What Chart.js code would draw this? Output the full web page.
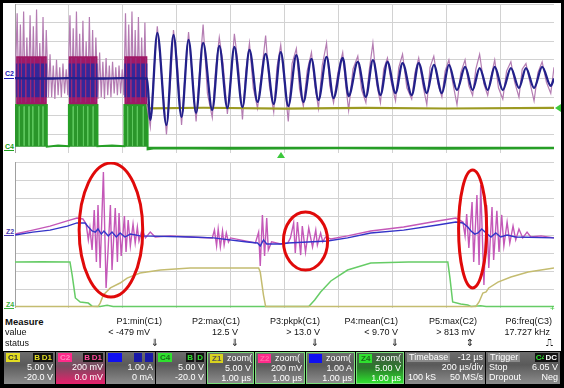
<!DOCTYPE html>
<html>
<head>
<meta charset="utf-8">
<script src="https://cdn.jsdelivr.net/npm/chart.js@4.4.0/dist/chart.umd.min.js"></script>
<style>
html, body { margin: 0; padding: 0; background: #000; }
#frame { position: relative; width: 564px; height: 388px; background: #000; overflow: hidden;
  font-family: "Liberation Sans", Arial, sans-serif; }
#paper { position: absolute; left: 3px; top: 3px; width: 558px; height: 381px; background: #fff; }
canvas { position: absolute; }
.mk { position: absolute; font-size: 7px; line-height: 7px; font-weight: bold; }
.mkl { position: absolute; height: 0; width: 10px; border-top: 1px solid; }
.m { position: absolute; font-size: 9px; line-height: 11px; color: #111; white-space: nowrap; }
#boxes { position: absolute; left: 0; top: 351px; width: 564px; height: 37px; background: #000; }
.bx { position: absolute; top: 1px; height: 32px; box-sizing: border-box; color: #fff; font-size: 9px;
  background: linear-gradient(#6c6c6c, #5a5a5a 40%, #8c8c8c); }
.zm { border: 1px solid #7be07b; }
.tg { position: absolute; left: 2px; top: 1px; height: 9px; line-height: 9px; padding: 0 2px; font-size: 8px; font-weight: bold; }
.bd { position: absolute; top: 1px; height: 9px; line-height: 9px; padding: 0 1px; background: #111; font-size: 8px; font-weight: bold; }
.hd { position: absolute; left: 2px; top: 1px; line-height: 9px; }
.r1 { position: absolute; right: 2px; top: 10px; line-height: 11px; }
.r2 { position: absolute; right: 2px; top: 20px; line-height: 11px; }
.l1 { position: absolute; left: 3px; top: 10px; line-height: 11px; }
.l2 { position: absolute; left: 3px; top: 20px; line-height: 11px; }
.tri { position: absolute; width: 0; height: 0; }
</style>
</head>
<body>
<div id="frame">
  <div id="paper"></div>
  <canvas id="scopeTop" width="539" height="149" style="left:15px;top:4px"></canvas>
  <canvas id="scopeZoom" width="539" height="146" style="left:15px;top:162px"></canvas>

  <!-- channel markers on the left -->
  <div class="mk" style="left:5px;top:70px;color:#2020b8">C2</div>
  <div class="mkl" style="left:4px;top:78px;color:#2020b8"></div>
  <div class="mk" style="left:5px;top:143px;color:#20a020">C4</div>
  <div class="mkl" style="left:4px;top:150px;color:#20a020"></div>
  <div class="mk" style="left:6px;top:228px;color:#4a3ab0">Z2</div>
  <div class="mkl" style="left:4px;top:235px;color:#4a3ab0"></div>
  <div class="mk" style="left:6px;top:301px;color:#40b040">Z4</div>
  <div class="mkl" style="left:4px;top:308px;color:#40b040"></div>

  <!-- trigger markers -->
  <div class="tri" style="left:277px;top:152px;border-left:4px solid transparent;border-right:4px solid transparent;border-bottom:6px solid #3cc83c"></div>
  <div class="tri" style="left:555px;top:104px;border-top:4px solid transparent;border-bottom:4px solid transparent;border-right:6px solid #3cc83c"></div>
  <div class="m" style="left:550px;top:303px;color:#3cc83c;font-size:8px">+</div>

  <!-- measurement table -->
  <div id="meas"></div>

  <!-- channel descriptor boxes -->
  <div id="boxes">
    <div class="bx" style="left:4px;width:51px">
      <span class="tg" style="background:#e2dc22;color:#333">C1</span>
      <span class="bd" style="right:14px;color:#e2dc22">B</span><span class="bd" style="right:2px;color:#e2dc22">D1</span>
      <div class="r1">5.00 V</div><div class="r2">-20.0 V</div>
    </div>
    <div class="bx" style="left:56px;width:49px;background:linear-gradient(#6c6c6c,#7a4a60 45%,#e8206c)">
      <span class="tg" style="background:#ff2a8a;color:#ff8ac0">C2</span>
      <span class="bd" style="right:14px;color:#ff4a9a">B</span><span class="bd" style="right:2px;color:#ff4a9a">D1</span>
      <div class="r1">200 mV</div><div class="r2">0.0 mV</div>
    </div>
    <div class="bx" style="left:106px;width:49px">
      <span class="tg" style="background:#1010f0;color:#1010f0">C3</span>
      <span class="bd" style="right:13px;background:#1a1aa8;color:#1a1aa8">B</span><span class="bd" style="right:2px;background:#1a1aa8;color:#1a1aa8">D</span>
      <div class="r1">1.00 A</div><div class="r2">0 mA</div>
    </div>
    <div class="bx" style="left:156px;width:50px">
      <span class="tg" style="background:#2ee02e;color:#1a6a1a">C4</span>
      <span class="bd" style="right:12px;color:#2ee02e">B</span><span class="bd" style="right:2px;color:#2ee02e">D</span>
      <div class="r1">5.00 V</div><div class="r2">-20.0 V</div>
    </div>
    <div class="bx zm" style="left:207px;width:47px">
      <span class="tg" style="background:#d8d21e;color:#555">Z1</span><span class="hd" style="left:19px">zoom(</span>
      <div class="r1">5.00 V</div><div class="r2">1.00 µs</div>
    </div>
    <div class="bx zm" style="left:255px;width:50px">
      <span class="tg" style="background:#ff2a8a;color:#ff6aa8">Z2</span><span class="hd" style="left:19px">zoom(</span>
      <div class="r1">200 mV</div><div class="r2">1.00 µs</div>
    </div>
    <div class="bx zm" style="left:306px;width:49px">
      <span class="tg" style="background:#1010f0;color:#1010f0">Z3</span><span class="hd" style="left:19px">zoom(</span>
      <div class="r1">1.00 A</div><div class="r2">1.00 µs</div>
    </div>
    <div class="bx zm" style="left:356px;width:48px;background:linear-gradient(#4a5a4a,#2a7a2a 50%,#30e030)">
      <span class="tg" style="background:#2ee02e;color:#1a6a1a">Z4</span><span class="hd" style="left:19px">zoom(</span>
      <div class="r1">5.00 V</div><div class="r2">1.00 µs</div>
    </div>
    <div class="bx" style="left:405px;width:80px">
      <span class="hd" style="padding:0 2px;background:#8a8a8a">Timebase</span>
      <span class="hd" style="left:auto;right:2px">-12 µs</span>
      <div class="r1">200 µs/div</div>
      <div class="l2">100 kS</div><div class="r2">50 MS/s</div>
    </div>
    <div class="bx" style="left:486px;width:74px">
      <span class="hd" style="padding:0 2px;background:#8a8a8a">Trigger</span>
      <span class="bd" style="right:13px;color:#2ee02e">C4</span><span class="bd" style="right:2px;color:#fff">DC</span>
      <div class="l1">Stop</div><div class="r1">6.05 V</div>
      <div class="l2">Dropout</div><div class="r2">Neg</div>
    </div>
  </div>
</div>

<script>
// ---------- top panel (200 us/div), x and y in screen divisions ----------
var burstOn = [0.02, 1.0, 2.03];
var burstOff = [0.59, 1.53, 2.46];
var c2BandTop = 1.2, c2BandBottom = -1.38;   // dense C2 during bursts
var c3BandTop = 0.8, c3BandBottom = -1.0;    // dense C3 during bursts

// C4 gate drive
var c4Top = [[0,-1.42],[0.59,-1.42],[0.59,-3.66],[0.8,-3.6],[1.0,-3.64],[1.0,-1.42],[1.53,-1.42],[1.53,-3.64],
  [1.8,-3.6],[2.03,-3.64],[2.03,-1.42],[2.46,-1.42],[2.46,-3.8],[2.6,-3.74],[4,-3.77],[6,-3.74],[8,-3.77],[10,-3.75]];
var c4Streaks = [0.08,0.17,0.26,0.33,0.44,0.52,1.08,1.16,1.27,1.35,1.45,2.09,2.18,2.27,2.38];
var c2Streaks = [0.06,0.12,0.2,0.29,0.36,0.47,0.55,1.05,1.13,1.22,1.31,1.4,1.49,2.07,2.15,2.24,2.33,2.42];

// C1
var c1Top = [[2.47,-1.6],[3.5,-1.57],[5,-1.62],[6.5,-1.58],[8,-1.61],[10,-1.58]];

// C2 raw (light trace)
var c2Top = [[0,-0.8],[0.04,3.5],[0.07,-1.2],[0.10,2.9],[0.13,-1.1],[0.16,3.6],[0.19,-1.3],[0.22,2.2],[0.25,-1.0],
  [0.28,3.4],[0.31,-1.2],[0.34,2.8],[0.37,-1.1],[0.40,3.7],[0.43,-1.3],[0.46,1.9],[0.49,-1.2],[0.52,3.3],[0.55,-1.1],[0.58,2.6],
  [0.62,-1.0],[0.65,1.3],[0.68,-1.0],[0.71,0.7],[0.74,-1.1],[0.77,1.0],[0.80,-0.9],[0.83,0.6],[0.86,-1.0],[0.89,0.8],
  [0.92,-0.8],[0.95,0.5],[0.98,-0.9],
  [1.02,3.4],[1.05,-1.2],[1.08,2.7],[1.11,-1.3],[1.14,3.6],[1.17,-1.1],[1.20,2.4],[1.23,-1.2],[1.26,3.1],[1.29,-1.3],
  [1.32,2.0],[1.35,-1.1],[1.38,3.3],[1.41,-1.2],[1.44,2.6],[1.47,-1.3],[1.50,2.2],
  [1.54,-1.1],[1.57,1.4],[1.60,-1.0],[1.63,0.9],[1.66,-1.1],[1.69,1.1],[1.72,-0.9],[1.75,0.7],[1.78,-1.0],[1.81,0.9],
  [1.84,-0.8],[1.87,0.6],[1.90,-0.9],[1.93,0.7],[1.96,-0.8],[1.99,0.5],[2.02,-0.9],
  [2.05,3.5],[2.08,-1.2],[2.11,2.9],[2.14,-1.3],[2.17,3.6],[2.20,-1.1],[2.23,2.6],[2.26,-1.2],[2.29,3.3],[2.32,-1.3],
  [2.35,2.2],[2.38,-1.2],[2.41,3.0],[2.44,-1.3],
  [2.51,-2.6],[2.58,0.5],[2.64,2.8],[2.72,0.2],[2.81,-3.0],[2.88,-0.4],[2.94,2.6],[3.01,0.9],[3.09,-2.5],[3.15,0.0],
  [3.22,2.5],[3.30,-0.3],[3.36,-2.3],[3.43,0.6],[3.49,2.9],[3.57,-0.8],[3.66,-2.1],[3.72,0.4],[3.79,2.2],[3.86,0.8],
  [3.94,-1.9],[4.00,-0.2],[4.07,2.4],[4.15,0.5],[4.22,-2.2],[4.28,0.3],[4.35,1.9],[4.42,-0.5],[4.50,-1.6],[4.57,0.2],
  [4.65,2.3],[4.72,-0.4],[4.80,-1.8],[4.86,0.6],[4.93,1.8],[5.00,-0.2],[5.07,-2.3],[5.14,0.8],[5.22,1.6],[5.28,-0.6],
  [5.35,-1.5],[5.42,0.4],[5.50,1.4],[5.56,-0.3],[5.63,-1.6],[5.70,0.7],[5.78,1.9],[5.84,-0.4],[5.91,-1.3],[5.99,0.3],
  [6.08,1.4],[6.13,-0.2],[6.19,-1.7],[6.27,0.5],[6.36,1.2],[6.43,-0.6],[6.51,-1.3],[6.57,0.4],[6.64,1.9],[6.71,-0.3],
  [6.78,-1.3],[6.84,0.5],[6.91,1.1],[6.98,-0.2],[7.06,-1.2],[7.12,0.6],[7.19,1.3],[7.27,-0.5],[7.36,-1.1],[7.42,0.3],
  [7.49,1.1],[7.57,-0.4],[7.64,-1.4],[7.70,0.6],[7.77,1.2],[7.85,-0.3],[7.92,-1.0],[7.98,0.4],[8.05,1.0],[8.12,-0.2],
  [8.20,-1.4],[8.27,0.3],[8.35,1.0],[8.42,-0.4],[8.49,-0.9],[8.55,0.5],[8.62,1.3],[8.70,-0.3],[8.77,-0.9],[8.84,0.2],
  [8.90,1.0],[8.97,-0.5],[9.05,-1.1],[9.12,0.4],[9.20,0.9],[9.27,-0.2],[9.35,-1.0],[9.41,0.5],[9.48,0.8],[9.56,-0.3],
  [9.63,-1.2],[9.70,0.3],[9.78,0.9],[9.86,-0.2],[9.94,-0.8],[10.0,0.6]];

// C3 current (peaks and troughs of the ringing)
var c3Top = [[0,0.02],[0.6,0],[1.0,0.02],[1.55,0],[2.0,0.02],[2.45,0],
  [2.51,-2.23],[2.64,2.45],[2.81,-2.50],[2.94,2.34],[3.09,-2.07],[3.22,2.07],[3.36,-1.85],[3.49,1.91],[3.66,-1.69],
  [3.79,1.75],[3.94,-1.59],[4.07,1.69],[4.22,-1.53],[4.35,1.53],[4.50,-1.26],[4.65,1.32],[4.80,-1.37],[4.93,1.42],
  [5.07,-1.48],[5.22,1.26],[5.35,-1.26],[5.50,1.05],[5.63,-1.16],[5.78,1.16],[5.91,-1.05],[6.08,1.10],[6.19,-0.94],
  [6.36,0.89],[6.51,-0.99],[6.64,0.99],[6.78,-0.89],[6.91,0.89],[7.06,-0.78],[7.19,0.83],[7.36,-0.89],[7.49,0.83],
  [7.64,-0.78],[7.77,0.73],[7.92,-0.78],[8.05,0.73],[8.20,-0.62],[8.35,0.62],[8.49,-0.62],[8.62,0.56],[8.77,-0.62],
  [8.90,0.62],[9.05,-0.62],[9.20,0.56],[9.35,-0.51],[9.48,0.56],[9.63,-0.51],[9.78,0.62],[9.94,-0.40],[10,0]];

// ---------- zoom panel (1 us/div) ----------
var z4Zoom = [[0,-1.48],[0.5,-1.46],[1.02,-1.48],[1.06,-2.19],[1.12,-3.45],[1.21,-3.67],[1.36,-3.73],[1.43,-3.9],
  [1.58,-3.92],[1.71,-3.85],[1.82,-3.92],[5.45,-3.92],[5.56,-3.56],[5.67,-3.12],[5.86,-2.52],[6.17,-1.92],[6.60,-1.53],
  [7.3,-1.48],[8.03,-1.48],[8.07,-2.36],[8.12,-3.67],[8.27,-3.78],[8.40,-3.84],[8.46,-3.92],[8.64,-3.88],[8.74,-3.92],[10,-3.92]];

var z1Zoom = [[0,-3.92],[1.54,-3.92],[1.58,-3.73],[1.64,-3.29],[1.77,-2.90],[1.95,-2.63],[2.08,-2.36],[2.32,-2.08],
  [2.70,-1.92],[3.25,-1.81],[4.52,-1.81],[4.55,-2.03],[4.61,-3.29],[4.65,-3.92],[8.55,-3.92],[8.61,-3.67],[8.68,-3.18],
  [8.74,-3.12],[8.79,-2.90],[8.96,-2.58],[9.20,-2.30],[9.52,-2.03],[10,-1.81]];

var z3Zoom = [[0,0],[0.33,0.16],[0.65,0.27],[0.97,0.49],[1.15,0.66],[1.30,0.66],[1.36,0.44],[1.43,0.22],[1.49,0.16],
  [1.54,0.33],[1.60,0.05],[1.65,0.22],[1.73,-0.05],[1.80,0.16],[1.88,-0.11],[1.95,0.11],[2.04,-0.11],[2.14,0.05],
  [2.32,-0.05],[3.25,-0.11],[3.68,-0.16],[4.31,-0.38],[4.50,-0.44],[4.55,-0.60],[4.61,-0.27],[4.67,-0.49],[4.93,-0.49],
  [5.06,-0.44],[5.80,-0.33],[6.17,-0.16],[6.60,0.11],[7.21,0.27],[7.84,0.55],[8.18,0.71],[8.31,0.66],[8.40,0.44],
  [8.46,0.22],[8.53,0.05],[8.59,0.11],[8.66,0.33],[8.74,0.11],[8.83,-0.11],[8.92,0.11],[9.01,-0.11],[9.13,0],
  [9.29,-0.11],[10,-0.16]];

var z2Zoom = [[0,0.05],[0.33,0.27],[0.65,0.49],[0.97,0.77],[1.15,0.93],[1.26,0.88],[1.32,0.60],[1.36,-0.27],[1.39,0.38],
  [1.43,-0.82],[1.47,1.37],[1.51,-1.48],[1.54,1.64],[1.58,-1.81],[1.64,3.45],[1.69,-2.90],[1.77,1.64],[1.80,-1.92],
  [1.86,1.48],[1.90,-1.48],[1.93,1.21],[1.97,-1.15],[2.03,1.04],[2.06,-0.93],[2.10,0.82],[2.14,-0.60],[2.19,0.60],
  [2.23,-0.44],[2.27,0.44],[2.30,-0.33],[2.36,0.33],[2.42,-0.16],[2.51,0.16],[2.60,-0.11],[2.88,-0.05],[3.25,-0.11],
  [3.66,-0.16],[3.70,0.27],[3.74,-0.60],[3.77,0.33],[3.81,-0.66],[3.85,0.22],[3.88,-0.55],[3.92,0.11],[3.96,-0.38],
  [4.00,-0.16],[4.46,-0.44],[4.52,0.16],[4.55,-1.70],[4.59,1.10],[4.63,-1.15],[4.67,0.93],[4.70,-0.82],[4.76,-0.38],
  [4.93,-0.49],[5.06,-0.44],[5.11,-0.16],[5.17,0.66],[5.20,-0.99],[5.24,0.71],[5.30,-1.10],[5.33,0.49],[5.39,-0.93],
  [5.45,0.38],[5.52,-0.66],[5.58,0.27],[5.61,-0.55],[5.67,0.11],[5.71,-0.38],[5.76,-0.11],[5.86,-0.22],[6.17,-0.05],
  [6.60,0.22],[7.21,0.44],[7.84,0.77],[8.18,0.93],[8.31,0.71],[8.35,-0.05],[8.38,1.15],[8.42,-0.71],[8.48,1.81],
  [8.51,-1.48],[8.57,2.19],[8.61,-1.64],[8.64,2.74],[8.70,-2.74],[8.75,1.64],[8.79,-1.81],[8.85,1.53],[8.88,-1.37],
  [8.94,1.32],[8.98,-0.93],[9.03,1.10],[9.07,-0.60],[9.13,0.71],[9.18,-0.44],[9.24,0.49],[9.29,-0.27],[9.35,0.33],
  [9.42,-0.16],[9.50,0.16],[9.57,-0.11],[9.76,-0.05],[10,-0.16]];

// red rings (centre x, centre y, half width, half height, in divisions)
var ringCX = [1.78, 5.39, 8.49];
var ringCY = [0.27, -0.33, 0.33];
var ringRX = [0.59, 0.41, 0.26];
var ringRY = [3.67, 1.59, 3.23];

// measurement table
var measName = ["P1:min(C1)", "P2:max(C1)", "P3:pkpk(C1)", "P4:mean(C1)", "P5:max(C2)", "P6:freq(C3)"];
var measValue = ["< -479 mV", "12.5 V", "> 13.0 V", "< 9.70 V", "> 813 mV", "17.727 kHz"];
var measStatus = ["⇓", "⇓", "⇓", "⇓", "⇕", "⎍"];

// ---------- helpers ----------
function pts(list) {
  return list.map(function (p) { return { x: p[0], y: p[1] }; });
}
// one continuous outline, dropping back to the bottom level between bursts
function bands(top, bottom) {
  var out = [];
  for (var i = 0; i < burstOn.length; i++) {
    out.push({ x: burstOn[i], y: bottom }, { x: burstOn[i], y: top }, { x: burstOff[i], y: top }, { x: burstOff[i], y: bottom });
  }
  return out;
}
function streaks(xs, top, bottom) {
  var out = [];
  xs.forEach(function (x) { out.push({ x: x, y: top }, { x: x, y: bottom }, { x: x + 0.001, y: null }); });
  return out;
}

function scopeScales() {
  var g = { color: "#d2d2d2", lineWidth: 1, drawTicks: false };
  return {
    x: { type: "linear", min: 0, max: 10, ticks: { display: false, stepSize: 1 }, grid: g, border: { display: true, color: "#a0a0a0" } },
    y: { type: "linear", min: -4, max: 4, ticks: { display: false, stepSize: 1 }, grid: g, border: { display: true, color: "#a0a0a0" } }
  };
}
var baseOpts = {
  responsive: false,
  animation: false,
  layout: { padding: 0 },
  elements: { point: { radius: 0 } },
  plugins: { legend: { display: false }, tooltip: { enabled: false } }
};

var ringPlugin = {
  id: "rings",
  afterDatasetsDraw: function (chart) {
    var ctx = chart.ctx, xs = chart.scales.x, ys = chart.scales.y;
    ctx.save();
    ctx.strokeStyle = "#e00a0a";
    ctx.lineWidth = 3;
    for (var i = 0; i < ringCX.length; i++) {
      var px = xs.getPixelForValue(ringCX[i]);
      var py = ys.getPixelForValue(ringCY[i]);
      var rx = Math.abs(xs.getPixelForValue(ringCX[i] + ringRX[i]) - px);
      var ry = Math.abs(ys.getPixelForValue(ringCY[i] + ringRY[i]) - py);
      ctx.beginPath();
      ctx.ellipse(px, py, rx, ry, 0, 0, Math.PI * 2);
      ctx.stroke();
    }
    ctx.restore();
  }
};

// top panel
new Chart(document.getElementById("scopeTop"), {
  type: "line",
  data: {
    datasets: [
      { data: pts(c4Top), borderColor: "#26a026", borderWidth: 2, backgroundColor: "#2a962a", fill: { value: -3.66 }, order: 9 },
      { data: streaks(c4Streaks, -1.5, -3.6), borderColor: "#5ec85e", borderWidth: 1, order: 8 },
      { data: pts(c2Top), borderColor: "#b47cb2", borderWidth: 1.2, order: 7 },
      { data: bands(c2BandTop, c2BandBottom), borderWidth: 0, borderColor: "rgba(0,0,0,0)", backgroundColor: "#a01866", fill: { value: c2BandBottom }, order: 6 },
      { data: bands(c3BandTop, c3BandBottom), borderWidth: 0, borderColor: "rgba(0,0,0,0)", backgroundColor: "#35279a", fill: { value: c3BandBottom }, order: 5 },
      { data: streaks(c2Streaks, c2BandTop - 0.1, c2BandBottom + 0.1), borderColor: "#9a2a78", borderWidth: 1, order: 4 },
      { data: pts(c1Top), borderColor: "#9c9a22", borderWidth: 2.2, order: 2 },
      { data: pts(c3Top), borderColor: "#22208a", borderWidth: 2.3, cubicInterpolationMode: "monotone", order: 1 }
    ]
  },
  options: Object.assign({}, baseOpts, { scales: scopeScales() })
});

// zoom panel
new Chart(document.getElementById("scopeZoom"), {
  type: "line",
  data: {
    datasets: [
      { data: pts(z4Zoom), borderColor: "#66cc66", borderWidth: 1.5, order: 4 },
      { data: pts(z1Zoom), borderColor: "#c4bc70", borderWidth: 1.5, order: 3 },
      { data: pts(z2Zoom), borderColor: "#c458b8", borderWidth: 1.4, order: 2 },
      { data: pts(z3Zoom), borderColor: "#3434c8", borderWidth: 1.4, order: 1 }
    ]
  },
  options: Object.assign({}, baseOpts, { scales: scopeScales() }),
  plugins: [ringPlugin]
});

// measurement rows
var meas = document.getElementById("meas");
function addText(txt, css) {
  var d = document.createElement("div");
  d.className = "m";
  d.textContent = txt;
  d.style.cssText = css;
  meas.appendChild(d);
}
addText("Measure", "left:5px;top:316px;font-weight:bold;font-size:9.5px");
addText("value", "left:5px;top:327px");
addText("status", "left:5px;top:338px");
var colRight = [162, 240, 320, 398, 477, 552];
var valRight = [150, 238, 320, 398, 475, 550];
var stCenter = [155, 235, 315, 395, 470, 549];
for (var i = 0; i < measName.length; i++) {
  addText(measName[i], "right:" + (564 - colRight[i]) + "px;top:316px");
  addText(measValue[i], "right:" + (564 - valRight[i]) + "px;top:327px");
  addText(measStatus[i], "left:" + (stCenter[i] - 5) + "px;top:337px;width:10px;text-align:center;font-family:'DejaVu Sans';font-size:10px");
}
</script>
</body>
</html>
